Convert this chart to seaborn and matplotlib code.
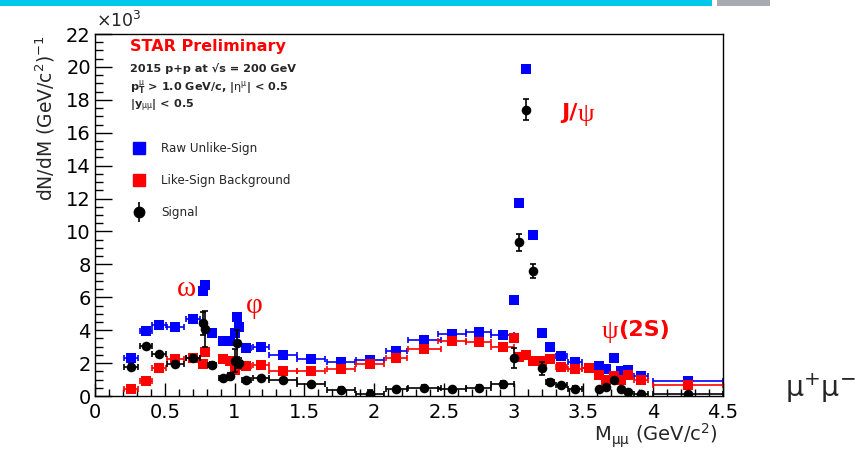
import numpy as np
import pandas as pd
import matplotlib
matplotlib.use("Agg")
import matplotlib.pyplot as plt
from matplotlib.lines import Line2D
from matplotlib.ticker import MultipleLocator, FuncFormatter
import seaborn as sns

# Dimuon invariant mass (GeV/c^2) and dN/dM (x10^3) for each sample
raw_mass = [0.26, 0.365, 0.46, 0.575, 0.70, 0.775, 0.79, 0.84, 0.92, 0.97, 1.0, 1.015, 1.03,
            1.085, 1.19, 1.35, 1.55, 1.76, 1.97, 2.16, 2.36, 2.56, 2.75, 2.92, 3.0, 3.04,
            3.085, 3.14, 3.2, 3.26, 3.34, 3.44, 3.54, 3.61, 3.66, 3.72, 3.77, 3.82, 3.91, 4.25]
raw_halfbin = [0.05, 0.04, 0.05, 0.06, 0.05, 0, 0, 0.03, 0.03, 0.02, 0, 0, 0,
               0.03, 0.06, 0.1, 0.1, 0.1, 0.1, 0.075, 0.12, 0.1, 0.09, 0.08, 0, 0,
               0, 0, 0, 0.03, 0.04, 0.05, 0.05, 0, 0, 0, 0, 0, 0.05, 0.25]
raw_counts = [2.3, 3.97, 4.3, 4.2, 4.7, 6.4, 6.75, 3.8, 3.33, 3.33, 3.8, 4.8, 4.2,
              2.9, 2.96, 2.52, 2.27, 2.09, 2.19, 2.76, 3.4, 3.77, 3.87, 3.71, 5.84, 11.75,
              19.9, 9.8, 3.81, 2.96, 2.45, 2.07, 1.7, 1.8, 1.65, 2.3, 1.54, 1.58, 1.2, 0.9]

bkg_mass = [0.26, 0.365, 0.46, 0.575, 0.70, 0.775, 0.79, 0.92, 0.97, 1.0, 1.015, 1.085,
            1.19, 1.35, 1.55, 1.76, 1.97, 2.16, 2.36, 2.56, 2.75, 2.92, 3.0, 3.04, 3.085,
            3.14, 3.2, 3.26, 3.34, 3.44, 3.54, 3.61, 3.66, 3.72, 3.77, 3.82, 3.91, 4.25]
bkg_halfbin = [0.05, 0.04, 0.05, 0.06, 0.05, 0, 0, 0.03, 0.02, 0, 0, 0.03,
               0.06, 0.1, 0.1, 0.1, 0.1, 0.075, 0.12, 0.1, 0.09, 0.08, 0, 0, 0,
               0, 0, 0.03, 0.04, 0.05, 0.05, 0, 0, 0, 0, 0, 0.05, 0.25]
bkg_counts = [0.42, 0.9, 1.68, 2.25, 2.33, 1.92, 2.68, 2.25, 2.15, 1.58, 1.88, 1.85,
              1.9, 1.5, 1.5, 1.64, 1.95, 2.29, 2.84, 3.34, 3.26, 2.95, 3.5, 2.4, 2.5,
              2.15, 2.1, 2.23, 1.78, 1.65, 1.68, 1.28, 1.0, 1.2, 1.0, 1.25, 0.95, 0.64]

sig_mass = [0.26, 0.365, 0.46, 0.575, 0.70, 0.775, 0.79, 0.84, 0.92, 0.97, 1.0, 1.015, 1.03,
            1.085, 1.19, 1.35, 1.55, 1.76, 1.97, 2.16, 2.36, 2.56, 2.75, 2.92, 3.0, 3.04,
            3.085, 3.14, 3.2, 3.26, 3.34, 3.44, 3.61, 3.66, 3.72, 3.77, 3.82, 3.91, 4.25]
sig_halfbin = [0.05, 0.04, 0.05, 0.06, 0.05, 0, 0, 0.03, 0.03, 0.02, 0, 0, 0,
               0.03, 0.06, 0.1, 0.1, 0.1, 0.1, 0.075, 0.12, 0.1, 0.09, 0.08, 0, 0,
               0, 0, 0, 0.03, 0.04, 0.05, 0, 0, 0, 0, 0, 0.05, 0.25]
sig_counts = [1.78, 3.04, 2.55, 1.95, 2.33, 4.42, 4.05, 1.9, 1.07, 1.22, 2.15, 3.2, 2.0,
              0.97, 1.07, 0.97, 0.71, 0.36, 0.12, 0.4, 0.5, 0.4, 0.5, 0.71, 2.3, 9.34,
              17.4, 7.62, 1.68, 0.85, 0.65, 0.45, 0.4, 0.57, 0.95, 0.42, 0.26, 0.12, 0.11]
sig_err = [0.15, 0.15, 0.15, 0.15, 0.15, 0.7, 1.1, 0.15, 0.15, 0.2, 0.7, 0.8, 0.3,
           0.15, 0.15, 0.15, 0.15, 0.2, 0.25, 0.15, 0.15, 0.15, 0.15, 0.2, 0.6, 0.52,
           0.65, 0.43, 0.4, 0.2, 0.15, 0.15, 0.1, 0.1, 0.1, 0.1, 0.1, 0.1, 0.1]

series_names = ["Raw Unlike-Sign", "Like-Sign Background", "Signal"]

sns.set_style("ticks")
plt.rcParams["font.family"] = ["DejaVu Sans"]
plt.rcParams["mathtext.fontset"] = "dejavusans"

W, H = 865, 454
fig = plt.figure(figsize=(W / 100, H / 100), dpi=100)
ax = fig.add_axes([95 / W, 1 - 396 / H, 628 / W, 362 / H])

blue = "#0000ff"
red = "#ff0000"

frames = {
    "raw": pd.DataFrame({"m": raw_mass, "n": raw_counts, "dm": raw_halfbin}),
    "bkg": pd.DataFrame({"m": bkg_mass, "n": bkg_counts, "dm": bkg_halfbin}),
    "sig": pd.DataFrame({"m": sig_mass, "n": sig_counts, "dm": sig_halfbin, "dn": sig_err}),
}

for key, col in (("raw", blue), ("bkg", red)):
    d = frames[key]
    ax.errorbar(d["m"], d["n"], xerr=d["dm"], fmt="none", ecolor=col, elinewidth=1.2,
                capsize=2.5, capthick=1.2, zorder=2)
    sns.scatterplot(data=d, x="m", y="n", ax=ax, marker="s", s=58, color=col,
                    edgecolor=col, linewidth=0, zorder=3, legend=False)

d = frames["sig"]
ax.errorbar(d["m"], d["n"], xerr=d["dm"], yerr=d["dn"], fmt="none", ecolor="black",
            elinewidth=1.2, capsize=2.5, capthick=1.2, zorder=4)
sns.scatterplot(data=d, x="m", y="n", ax=ax, marker="o", s=48, color="black",
                edgecolor="black", linewidth=0, zorder=5, legend=False)

ax.set_xlim(0, 4.5)
ax.set_ylim(0, 22)
ax.xaxis.set_major_locator(MultipleLocator(0.5))
ax.xaxis.set_minor_locator(MultipleLocator(0.1))
ax.yaxis.set_major_locator(MultipleLocator(2))
ax.yaxis.set_minor_locator(MultipleLocator(0.5))
ax.xaxis.set_major_formatter(FuncFormatter(lambda v, p: f"{v:g}"))
ax.tick_params(axis="both", which="both", direction="in", top=False, right=False,
               labelsize=14, colors="black", width=1)
ax.tick_params(axis="x", which="major", length=9.5, pad=5)
ax.tick_params(axis="x", which="minor", length=5)
ax.tick_params(axis="y", which="major", length=12, pad=3)
ax.tick_params(axis="y", which="minor", length=6)
for sp in ax.spines.values():
    sp.set_color("black")
    sp.set_linewidth(1)
ax.set_xlabel("")
ax.set_ylabel("")

# axis titles
fig.text(718 / W, 1 - 436 / H, r"M$_{\mathrm{\mu\mu}}$ (GeV/c$^{2}$)", ha="right",
         va="center", fontsize=14)
fig.text(45 / W, 1 - 35 / H, r"dN/dM (GeV/c$^{2}$)$^{-1}$", ha="center", va="top",
         rotation=90, fontsize=13.5)
fig.text(96 / W, 1 - 21 / H, r"$\times$10$^{3}$", ha="left", va="center", fontsize=12.5)

# header text block
fig.text(130 / W, 1 - 47 / H, "STAR Preliminary", color=red, fontsize=11.5,
         fontweight="bold", va="center")
fig.text(130 / W, 1 - 68 / H, "2015 p+p at \u221as = 200 GeV", fontsize=8.1,
         fontweight="bold", va="center")
fig.text(130 / W, 1 - 88 / H,
         r"$\mathbf{p}_{\mathbf{T}}^{\mathrm{\mu}}$ > 1.0 GeV/c, |$\mathrm{\eta}^{\mathrm{\mu}}$| < 0.5",
         fontsize=8.1, fontweight="bold", va="center")
fig.text(130 / W, 1 - 106 / H, r"|$\mathbf{y}_{\mathrm{\mu\mu}}$| < 0.5", fontsize=8.1,
         fontweight="bold", va="center")

# legend
h_raw = Line2D([], [], marker="s", ls="none", color=blue, ms=8)
h_bkg = Line2D([], [], marker="s", ls="none", color=red, ms=8)
h_sig = (Line2D([], [], marker="|", ls="none", color="black", ms=14, mew=1.2),
         Line2D([], [], marker="o", ls="none", color="black", ms=7.5))
leg = ax.legend([h_raw, h_bkg, h_sig], series_names, loc="upper left",
                bbox_to_anchor=(32 / 628, (396 - 137) / 362), frameon=False,
                fontsize=8.6, labelspacing=1.62, handlelength=1.2, handletextpad=1.25,
                borderaxespad=0)

# resonance labels
serif = ["Liberation Serif", "DejaVu Serif"]
fig.text(186 / W, 1 - 289 / H, "\u03c9", color=red, fontsize=21, family=serif,
         ha="center", va="center")
fig.text(254 / W, 1 - 306 / H, "\u03c6", color=red, fontsize=21, family=serif,
         ha="center", va="center")
fig.text(578 / W, 1 - 113 / H, "J/", color=red, fontsize=16, fontweight="bold",
         ha="right", va="center")
fig.text(578 / W, 1 - 115 / H, "\u03c8", color=red, fontsize=19, family=serif,
         ha="left", va="center")
fig.text(618 / W, 1 - 332 / H, "\u03c8", color=red, fontsize=19, family=serif,
         ha="right", va="center")
fig.text(618 / W, 1 - 330 / H, "(2S)", color=red, fontsize=16, fontweight="bold",
         ha="left", va="center")

# channel label in the right margin
fig.text(785 / W, 1 - 388 / H, r"$\mathrm{\mu}^{+}\mathrm{\mu}^{-}$", fontsize=20.5,
         ha="left", va="center")

# header band
fig.add_artist(plt.Rectangle((0, 1 - 6 / H), 712 / W, 6 / H, transform=fig.transFigure,
                             color="#00c8ea", lw=0))
fig.add_artist(plt.Rectangle((717 / W, 1 - 6 / H), 53 / W, 6 / H,
                             transform=fig.transFigure, color="#a8aab0", lw=0))

fig.savefig("out.png", dpi=100)
